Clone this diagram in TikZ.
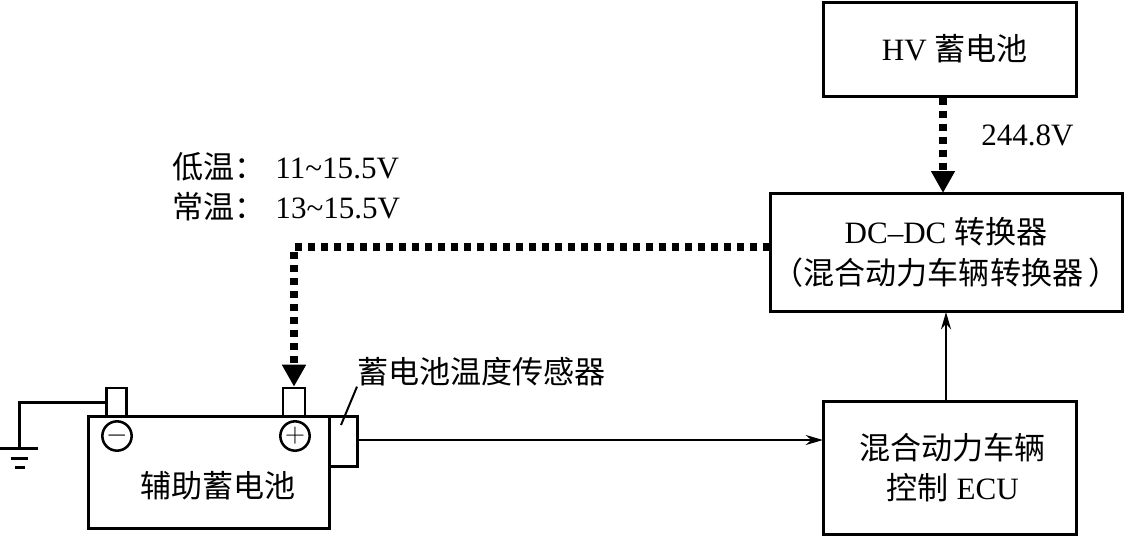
\documentclass[tikz,border=0pt]{standalone}
\usepackage{fontspec}
\setmainfont{Liberation Serif}
\newfontfamily\cjk{Noto Sans CJK SC}
\usetikzlibrary{arrows.meta,calc,positioning}
\newcommand{\hz}[1]{{\cjk #1}}
\tikzset{
 box/.style={draw,line width=2.25pt,align=center,inner sep=0pt,font=\fontsize{23.3}{30.5}\selectfont},
 terminal/.style={draw,line width=1.9pt,inner sep=0pt},
 pole/.style={draw,circle,line width=1.9pt,inner sep=0pt,minimum size=22pt,font=\fontsize{21}{21}\selectfont},
 lbl/.style={inner sep=0pt,font=\fontsize{23.3}{30.5}\selectfont},
 power/.style={line width=6pt,dash pattern=on 5.25pt off 4.5pt,-{Triangle[length=16.5pt,width=17pt]}},
 signal/.style={line width=1.5pt,-{Stealth[length=13pt,width=7.5pt]}},
 wire/.style={line width=2.25pt}
}
\begin{document}
\begin{tikzpicture}[x=.75pt,y=-.75pt]
 \useasboundingbox (0,0) rectangle (1126,536);
 % boxes
 \node[box,minimum width=189.75pt,minimum height=70.5pt] (hv) at (949.5,49) {\hspace{8pt}HV \hz{蓄电池}};
 \node[box,minimum width=264pt,minimum height=89pt] (dc) at (946,252.5)
  {DC--DC \hz{转换器}\\\hz{（混合动力车辆转换器\,）}};
 \node[box,minimum width=189.75pt,minimum height=99.75pt] (ecu) at (949.5,467.5)
  {\hspace{5pt}\hz{混合动力车辆}\\\hspace{5pt}\hz{控制} ECU};
 % battery
 \node[box,minimum width=180.75pt,minimum height=84pt] (batt) at (208.5,472) {};
 \node[lbl] (battname) at (218,486) {\hz{辅助蓄电池}};
 \node[terminal,minimum width=15pt,minimum height=21pt] (neg) at (116.5,402) {};
 \node[terminal,minimum width=16.5pt,minimum height=21pt] (pos) at (294,402) {};
 \node[pole] (minus) at (117,436) {$-$};
 \node[pole] (plus) at (295,436) {$+$};
 \node[box,minimum width=21pt,minimum height=37.5pt] (sensor) at (343,441) {};
 % labels
 \node[lbl,anchor=west] (sensorname) at (357,372) {\hz{蓄电池温度传感器}};
 \node[lbl,anchor=west] (volt) at (981,135) {244.8V};
 \node[lbl,anchor=west] (low) at (172,167) {\hz{低温：}\hspace{7.5pt}11\textasciitilde15.5V};
 \node[lbl,anchor=west] (normal) at (172,207) {\hz{常温：}\hspace{7.5pt}13\textasciitilde15.5V};
 % connectors
 \coordinate (dcin) at (943,193);
 \coordinate (dcout) at (770,247);
 \coordinate (ecuin) at (823,440);
 \coordinate (dcup) at (946,312);
 \coordinate (sensortip) at (341,425);
 \coordinate (gnd) at (19,448);
 \draw[power] (dcin |- hv.south) -- (dcin);
 \draw[power] (dcout) -| (pos.north);
 \draw[signal] (dcup |- ecu.north) -- (dcup);
 \draw[signal] (sensor.east |- ecuin) -- (ecuin);
 \draw[line width=1.5pt] (sensorname.south west) -- (sensortip);
 % ground
 \draw[wire] (neg.west) -| (gnd);
 \draw[wire] (0,448) -- (38,448);
 \draw[wire] (11,458) -- (28,458);
 \draw[wire] (15,467) -- (25,467);
\end{tikzpicture}
\end{document}
